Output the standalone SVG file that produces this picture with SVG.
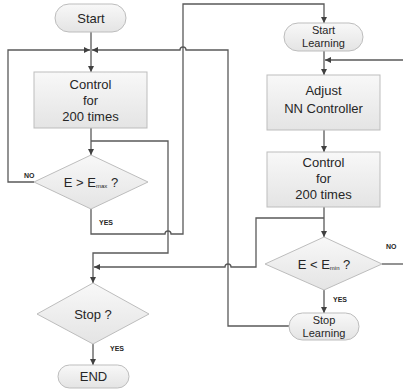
<svg xmlns="http://www.w3.org/2000/svg" width="403" height="392" viewBox="0 0 403 392">
  <defs>
    <linearGradient id="shapeFill" x1="0" y1="0" x2="0" y2="1">
      <stop offset="0" stop-color="#f8f8f8"/>
      <stop offset="1" stop-color="#e4e4e4"/>
    </linearGradient>
    <marker id="arrow" markerWidth="6" markerHeight="6" refX="6" refY="3" orient="auto" markerUnits="userSpaceOnUse">
      <path d="M0,0 L6,3 L0,6 Z" fill="#404040"/>
    </marker>
  </defs>
  <style>
    .shape { fill: url(#shapeFill); stroke: #bdbdbd; stroke-width: 1; }
    .lbl { font-family: "Liberation Sans", Arial, sans-serif; font-size: 13px; fill: #262626; text-anchor: middle; }
    .sm { font-size: 11px; }
    .sub { font-size: 6px; }
    .tag { font-family: "Liberation Sans", Arial, sans-serif; font-size: 7px; font-weight: bold; fill: #262626; }
    .wire { fill: none; stroke: #595959; stroke-width: 1.3; }
    .arr { marker-end: url(#arrow); }
  </style>
  <rect width="403" height="392" fill="#ffffff"/>

  <!-- connectors -->
  <g id="connectors">
    <path class="wire arr" d="M91,32 V72"/>
    <path class="wire arr" d="M34,182 H8 V50 H90"/>
    <path class="wire arr" d="M289,326 H228 V50 H186 a3,3 0 0 0 -6,0 H92"/>
    <path class="wire arr" d="M91,128 V155"/>
    <path class="wire arr" d="M91,141 H168 V253 H93 V283"/>
    <path class="wire arr" d="M91,209 V234 H165 a3,3 0 0 1 6,0 H183 V4 H324 V23"/>
    <path class="wire arr" d="M324,51 V75"/>
    <path class="wire" d="M382,264 H403"/>
    <path class="wire arr" d="M403,60 H325"/>
    <path class="wire arr" d="M324,130 V152"/>
    <path class="wire arr" d="M324,207 V237"/>
    <path class="wire arr" d="M324,218 H256 V267 H231 a3,3 0 0 0 -6,0 H94"/>
    <path class="wire arr" d="M324,290 V313"/>
    <path class="wire arr" d="M93,344 V365"/>
  </g>

  <!-- left flow -->
  <g id="start">
    <rect class="shape" x="55" y="4" width="71" height="28" rx="14"/>
    <text class="lbl" x="91" y="23">Start</text>
  </g>
  <g id="control1">
    <rect class="shape" x="34" y="72" width="113" height="56"/>
    <text class="lbl" x="90.5" y="89">Control</text>
    <text class="lbl" x="90.5" y="105">for</text>
    <text class="lbl" x="90.5" y="121">200 times</text>
  </g>
  <g id="checkMax">
    <polygon class="shape" points="91,155 148,182 91,209 34,182"/>
    <text class="lbl" x="91" y="187">E &gt; E<tspan class="sub" dy="1">max</tspan><tspan dy="-1"> ?</tspan></text>
    <text class="tag" x="24" y="178">NO</text>
    <text class="tag" x="99" y="225">YES</text>
  </g>
  <g id="stop">
    <polygon class="shape" points="93,283 149,314 93,344 37,314"/>
    <text class="lbl" x="93" y="319">Stop ?</text>
    <text class="tag" x="110" y="351">YES</text>
  </g>
  <g id="end">
    <rect class="shape" x="58" y="365" width="71" height="23" rx="11.5"/>
    <text class="lbl" x="93.5" y="381">END</text>
  </g>

  <!-- learning flow -->
  <g id="startLearning">
    <rect class="shape" x="284" y="23" width="79" height="28" rx="14"/>
    <text class="lbl sm" x="323.5" y="34">Start</text>
    <text class="lbl sm" x="323.5" y="47">Learning</text>
  </g>
  <g id="adjust">
    <rect class="shape" x="267" y="75" width="113" height="55"/>
    <text class="lbl" x="323.5" y="95">Adjust</text>
    <text class="lbl" x="323.5" y="113">NN Controller</text>
  </g>
  <g id="control2">
    <rect class="shape" x="267" y="152" width="113" height="55"/>
    <text class="lbl" x="323.5" y="167">Control</text>
    <text class="lbl" x="323.5" y="183">for</text>
    <text class="lbl" x="323.5" y="199">200 times</text>
  </g>
  <g id="checkMin">
    <polygon class="shape" points="324,237 382,264 324,290 265,264"/>
    <text class="lbl" x="324" y="269">E &lt; E<tspan class="sub" dy="1">min</tspan><tspan dy="-1"> ?</tspan></text>
    <text class="tag" x="386" y="249">NO</text>
    <text class="tag" x="333" y="302">YES</text>
  </g>
  <g id="stopLearning">
    <rect class="shape" x="289" y="313" width="70" height="27" rx="13.5"/>
    <text class="lbl sm" x="324" y="324">Stop</text>
    <text class="lbl sm" x="324" y="337">Learning</text>
  </g>
</svg>
